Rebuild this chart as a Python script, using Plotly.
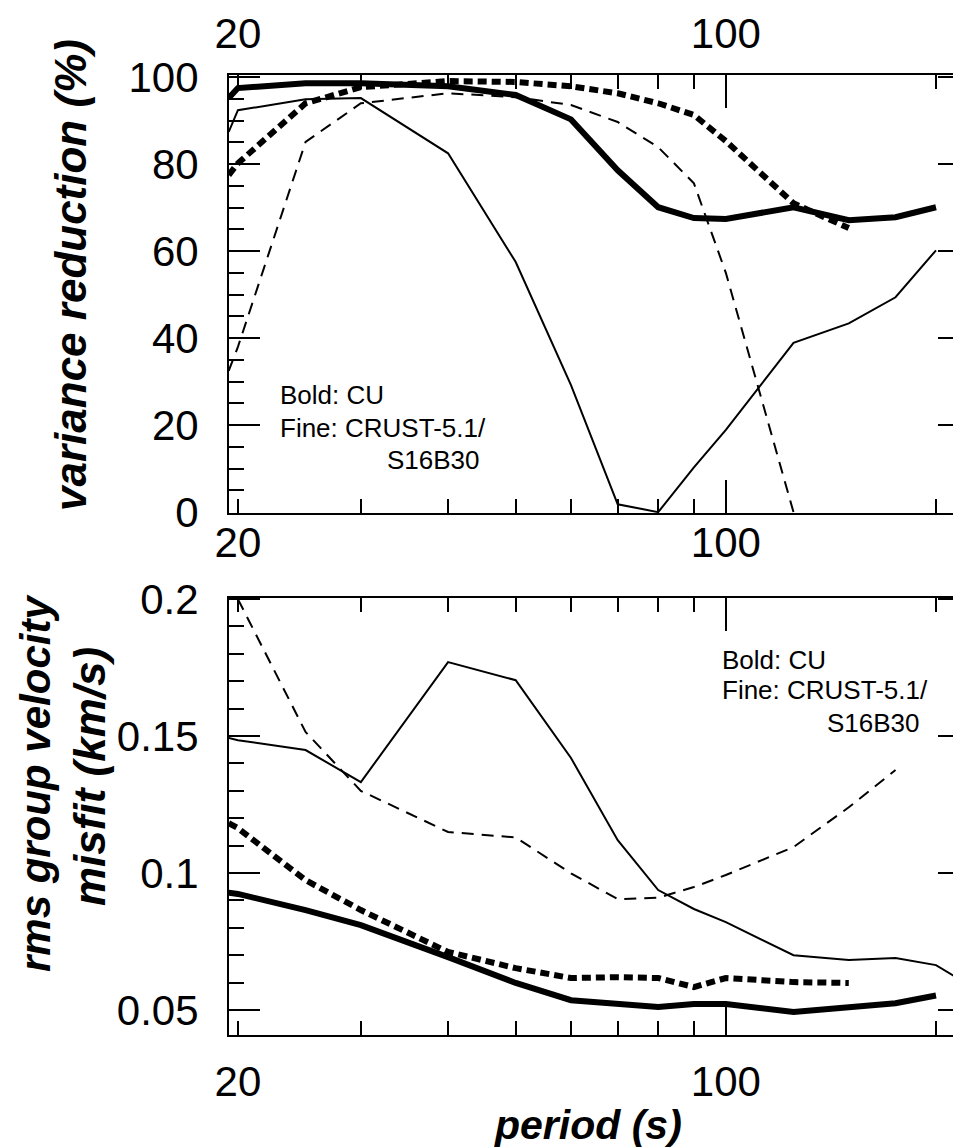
import numpy as np
import plotly.graph_objects as go

FONT = "Liberation Sans, Arial, sans-serif"

# periods (s); last value sits just past the right frame edge
periods = [19.4, 20, 25, 30, 40, 50, 60, 70, 80, 90, 100, 125, 150, 175, 200, 218]

# variance reduction (%)
vr_cu_solid = [95.2, 97.5, 98.6, 98.6, 97.9, 95.9, 90.3, 78.6, 70.1, 67.6, 67.4, 70.1, 67.1, 67.8, 70.1, None]
vr_crust_solid = [87.4, 92.4, 94.9, 95.2, 82.5, 57.5, 29.2, 1.8, 0.0, 10.3, 18.9, 38.9, 43.4, 49.4, 60.2, None]
vr_cu_dash = [77.5, 80.2, 94.0, 97.7, 99.1, 98.9, 97.9, 96.3, 94.0, 91.3, 85.3, 71.0, 65.3, None, None, None]
vr_crust_dash = [32.5, 38.0, 85.1, 94.0, 96.3, 95.4, 93.6, 89.7, 83.9, 75.6, 55.0, 0.0, None, None, None, None]

# rms group velocity misfit (km/s)
rms_cu_solid = [0.0928, 0.0924, 0.0865, 0.0810, 0.0693, 0.0599, 0.0536, 0.0522, 0.0511, 0.0522, 0.0522, 0.0493, 0.0510, 0.0525, 0.0553, None]
rms_crust_solid = [0.1493, 0.1485, 0.1449, 0.1332, 0.1770, 0.1704, 0.1420, 0.1120, 0.0938, 0.0869, 0.0821, 0.0700, 0.0683, 0.0690, 0.0664, 0.0607]
rms_cu_dash = [0.1182, 0.1164, 0.0974, 0.0865, 0.0712, 0.0653, 0.0617, 0.0620, 0.0617, 0.0584, 0.0617, 0.0602, 0.0599, None, None, None]
rms_crust_dash = [None, 0.2000, 0.1515, 0.1300, 0.1150, 0.1130, 0.0999, 0.0905, 0.0910, 0.0949, 0.0993, 0.1095, 0.1240, 0.1376, None, None]

x_labels = [20, 100]
x_minor = [30, 40, 50, 60, 70, 80, 90, 200]
vr_ticks = [0, 20, 40, 60, 80, 100]
rms_ticks = [0.05, 0.1, 0.15, 0.2]
rms_ticktext = ["0.05", "0.1", "0.15", "0.2"]

# the page body adds an 8px offset, so everything is placed 8px up/left
W, H = 961, 1148
x_dom = [221 / W, 1.0]
top_dom = [1 - 505 / H, 1 - 67 / H]
bot_dom = [1 - 1027 / H, 1 - 590 / H]
x_range = [np.log10(19.42), np.log10(223)]
vr_range = [-0.2, 100.5]
rms_range = [0.0409, 0.2004]

tick_font = dict(family=FONT, size=42, color="black")
bold = dict(color="black", width=6)
fine = dict(color="black", width=2)


def line_traces(xa, ya, solid_cu, solid_crust, dash_cu, dash_crust):
    return [
        go.Scatter(x=periods, y=dash_crust, mode="lines", xaxis=xa, yaxis=ya,
                   line=dict(fine, dash="12px,8px")),
        go.Scatter(x=periods, y=solid_crust, mode="lines", xaxis=xa, yaxis=ya, line=fine),
        go.Scatter(x=periods, y=dash_cu, mode="lines", xaxis=xa, yaxis=ya,
                   line=dict(bold, dash="9px,5px")),
        go.Scatter(x=periods, y=solid_cu, mode="lines", xaxis=xa, yaxis=ya, line=bold),
    ]


fig = go.Figure()
for tr in line_traces("x", "y", vr_cu_solid, vr_crust_solid, vr_cu_dash, vr_crust_dash):
    fig.add_trace(tr)
for tr in line_traces("x2", "y2", rms_cu_solid, rms_crust_solid, rms_cu_dash, rms_crust_dash):
    fig.add_trace(tr)

# empty traces so that the overlay axes (extra ticks / labels) get drawn
for xa, ya in [("x3", "y"), ("x5", "y"), ("x4", "y2")]:
    fig.add_trace(go.Scatter(x=[], y=[], mode="lines", xaxis=xa, yaxis=ya, hoverinfo="skip"))

base_x = dict(type="log", range=x_range, domain=x_dom, showgrid=False, zeroline=False,
              automargin=False)


def main_x(anchor, standoff):
    return dict(base_x, anchor=anchor, side="bottom", showline=True, linecolor="black",
                linewidth=2, mirror="ticks", ticks="inside", ticklen=14, tickwidth=2,
                tickcolor="black", tickvals=x_labels, ticktext=[str(v) for v in x_labels],
                tickfont=tick_font, ticklabelstandoff=standoff,
                minor=dict(tickvals=x_minor, ticks="inside", ticklen=14, tickwidth=2,
                           tickcolor="black", showgrid=False))


def long_tick_x(over, anchor):
    return dict(base_x, overlaying=over, anchor=anchor, showline=False, mirror="ticks",
                ticks="inside", ticklen=33, tickwidth=2, tickcolor="black",
                tickvals=[100], showticklabels=False)


def main_y(dom, rng, tv, tt, minor_dtick, anchor):
    return dict(domain=dom, range=rng, anchor=anchor, showgrid=False, zeroline=False,
                automargin=False, showline=True, linecolor="black", linewidth=2,
                mirror="ticks", ticks="inside", ticklen=31, tickwidth=2, tickcolor="black",
                tickvals=tv, ticktext=tt, tickfont=tick_font, ticklabelstandoff=20,
                minor=dict(dtick=minor_dtick, ticks="inside", ticklen=15, tickwidth=2,
                           tickcolor="black", showgrid=False))


fig.update_layout(
    template="none",
    width=W, height=H,
    margin=dict(l=0, r=0, t=0, b=0, autoexpand=False),
    paper_bgcolor="white", plot_bgcolor="white",
    showlegend=False,
    font=dict(family=FONT, color="black"),
    xaxis=main_x("y", -8),
    xaxis2=main_x("y2", 9),
    xaxis3=dict(base_x, overlaying="x", anchor="y", side="top", ticks="",
                tickvals=x_labels, ticktext=[str(v) for v in x_labels],
                tickfont=tick_font, ticklabelstandoff=18, showline=False),
    xaxis5=long_tick_x("x", "y"),
    xaxis4=long_tick_x("x2", "y2"),
    yaxis=main_y(top_dom, vr_range, vr_ticks, [str(v) for v in vr_ticks], 5, "x"),
    yaxis2=main_y(bot_dom, rms_range, rms_ticks, rms_ticktext, 0.01, "x2"),
)

note_font = dict(family=FONT, size=26, color="black")
ann = [
    dict(text="<b><i>variance reduction (%)</i></b>", x=62 / W, y=1 - 267 / H,
         textangle=-90, font=dict(family=FONT, size=44, color="black")),
    dict(text="<b><i>rms group velocity</i></b>", x=28 / W, y=1 - 775 / H,
         textangle=-90, font=dict(family=FONT, size=42, color="black")),
    dict(text="<b><i>misfit (km/s)</i></b>", x=81 / W, y=1 - 769 / H,
         textangle=-90, font=dict(family=FONT, size=44, color="black")),
    dict(text="<b><i>period (s)</i></b>", x=580 / W, y=1 - 1117 / H,
         font=dict(family=FONT, size=41, color="black")),
    dict(text="Bold: CU", x=270 / W, y=1 - 387 / H, xanchor="left", font=note_font),
    dict(text="Fine: CRUST-5.1/", x=270 / W, y=1 - 420 / H, xanchor="left", font=note_font),
    dict(text="S16B30", x=377 / W, y=1 - 452 / H, xanchor="left", font=note_font),
    dict(text="Bold: CU", x=712 / W, y=1 - 652 / H, xanchor="left", font=note_font),
    dict(text="Fine: CRUST-5.1/", x=712 / W, y=1 - 682 / H, xanchor="left", font=note_font),
    dict(text="S16B30", x=817 / W, y=1 - 715 / H, xanchor="left", font=note_font),
]
for a in ann:
    a.update(xref="paper", yref="paper", showarrow=False)
    a.setdefault("xanchor", "center")
    a["yanchor"] = "middle"
fig.update_layout(annotations=ann)

fig.write_html("out.html")
